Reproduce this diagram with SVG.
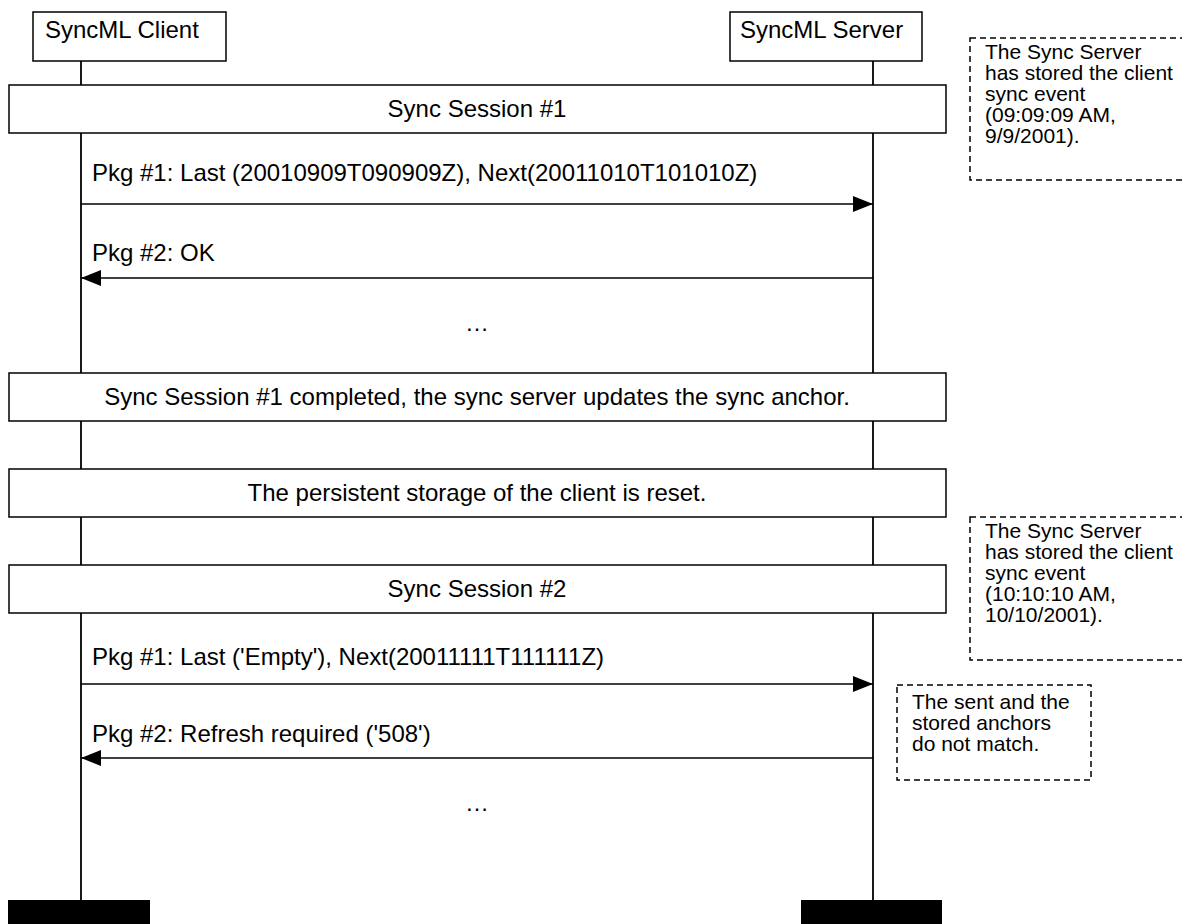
<svg xmlns="http://www.w3.org/2000/svg" width="1182" height="924" viewBox="0 0 1182 924">
<style>
.box{fill:#fff;stroke:#000;stroke-width:1.5}
.life{stroke:#000;stroke-width:1.8}
.note{fill:#fff;stroke:#000;stroke-width:1.5;stroke-dasharray:6,4}
.t{font-family:"Liberation Sans",Arial,sans-serif;font-size:24px;fill:#000}
.n{font-family:"Liberation Sans",Arial,sans-serif;font-size:21px;fill:#000}
.c{text-anchor:middle}
.arr{stroke:#000;stroke-width:1.5;fill:none}
</style>
<defs>
<marker id="ah" viewBox="0 0 20 16" refX="20" refY="8" markerWidth="20" markerHeight="16" markerUnits="userSpaceOnUse" orient="auto">
<path d="M0,0 L20,8 L0,16 Z" fill="#000"/>
</marker>
</defs>
<g id="lifelines">
<line class="life" x1="81" y1="61" x2="81" y2="900"/>
<line class="life" x1="873" y1="61" x2="873" y2="900"/>
</g>
<g id="client">
<rect class="box" x="33" y="12" width="193" height="49"/>
<text class="t" x="45" y="38">SyncML Client</text>
<rect x="8" y="900" width="142" height="26" fill="#000"/>
</g>
<g id="server">
<rect class="box" x="730" y="12" width="192" height="49"/>
<text class="t" x="740" y="38">SyncML Server</text>
<rect x="801" y="900" width="141" height="26" fill="#000"/>
</g>
<g id="session1">
<rect class="box" x="9" y="85" width="937" height="48"/>
<text class="t c" x="477" y="117">Sync Session #1</text>
</g>
<g id="completed">
<rect class="box" x="9" y="373" width="937" height="48"/>
<text class="t c" x="477" y="405">Sync Session #1 completed, the sync server updates the sync anchor.</text>
</g>
<g id="reset">
<rect class="box" x="9" y="469" width="937" height="48"/>
<text class="t c" x="477" y="501">The persistent storage of the client is reset.</text>
</g>
<g id="session2">
<rect class="box" x="9" y="565" width="937" height="48"/>
<text class="t c" x="477" y="597">Sync Session #2</text>
</g>
<g id="note1">
<rect class="note" x="970" y="38" width="220" height="142"/>
<text class="n" x="985" y="59">The Sync Server</text>
<text class="n" x="985" y="80">has stored the client</text>
<text class="n" x="985" y="101">sync event</text>
<text class="n" x="985" y="122">(09:09:09 AM,</text>
<text class="n" x="985" y="143">9/9/2001).</text>
</g>
<g id="note2">
<rect class="note" x="970" y="517" width="220" height="143"/>
<text class="n" x="985" y="538">The Sync Server</text>
<text class="n" x="985" y="559">has stored the client</text>
<text class="n" x="985" y="580">sync event</text>
<text class="n" x="985" y="601">(10:10:10 AM,</text>
<text class="n" x="985" y="622">10/10/2001).</text>
</g>
<g id="note3">
<rect class="note" x="897" y="685" width="194" height="95"/>
<text class="n" x="912" y="709">The sent and the</text>
<text class="n" x="912" y="730">stored anchors</text>
<text class="n" x="912" y="751">do not match.</text>
</g>
<g id="connectors">
<line class="arr" x1="81" y1="204" x2="873" y2="204" marker-end="url(#ah)"/>
<line class="arr" x1="873" y1="278" x2="81" y2="278" marker-end="url(#ah)"/>
<line class="arr" x1="81" y1="684" x2="873" y2="684" marker-end="url(#ah)"/>
<line class="arr" x1="873" y1="758" x2="81" y2="758" marker-end="url(#ah)"/>
</g>
<g id="labels">
<text class="t" x="92" y="180.5">Pkg #1: Last (20010909T090909Z), Next(20011010T101010Z)</text>
<text class="t" x="92" y="260.5">Pkg #2: OK</text>
<text class="t c" x="477" y="331">…</text>
<text class="t" x="92" y="664.5">Pkg #1: Last ('Empty'), Next(20011111T111111Z)</text>
<text class="t" x="92" y="741.5">Pkg #2: Refresh required ('508')</text>
<text class="t c" x="477" y="811">…</text>
</g>
</svg>
